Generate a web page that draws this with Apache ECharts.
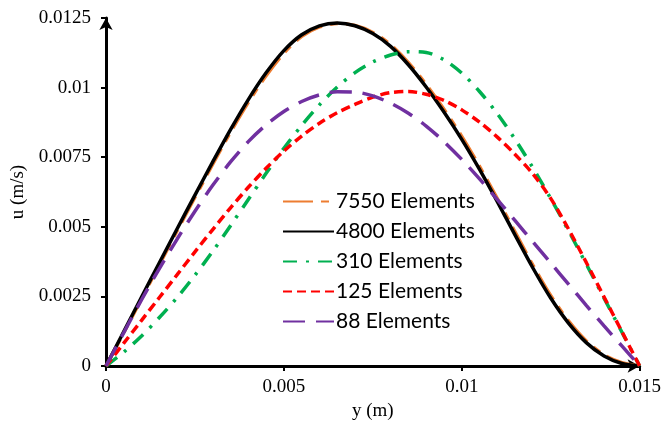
<!DOCTYPE html>
<html>
<head>
<meta charset="utf-8">
<script src="https://cdn.jsdelivr.net/npm/echarts@6/dist/echarts.min.js"></script>
<style>
  html, body { margin: 0; padding: 0; background: #fff; }
  #chart { width: 664px; height: 429px; }
</style>
</head>
<body>
<div id="chart"></div>
<script>
// positions along the channel (m)
const ys = [0, 0.0005, 0.001, 0.0015, 0.002, 0.0025, 0.003, 0.0035, 0.004, 0.0045, 0.005,
  0.0055, 0.006, 0.0065, 0.007, 0.0075, 0.008, 0.0085, 0.009, 0.0095, 0.01,
  0.0105, 0.011, 0.0115, 0.012, 0.0125, 0.013, 0.0135, 0.014, 0.0145, 0.015];

// velocity u (m/s) for each mesh
const u7550 = [0, 0.0012, 0.00242, 0.00364, 0.00486, 0.00606, 0.00725, 0.0084, 0.00947, 0.01043, 0.01124,
  0.01184, 0.01218, 0.0123, 0.01223, 0.01198, 0.01154, 0.0109, 0.01011, 0.00922, 0.00825,
  0.00717, 0.00601, 0.00481, 0.00362, 0.00253, 0.00162, 0.0009, 0.0004, 0.00012, 0];
const u4800 = [0, 0.00124, 0.00248, 0.00371, 0.00493, 0.00614, 0.00733, 0.00849, 0.00957, 0.01053, 0.01133,
  0.0119, 0.01222, 0.01232, 0.01222, 0.01194, 0.01148, 0.01082, 0.01002, 0.00912, 0.00814,
  0.00706, 0.0059, 0.0047, 0.00352, 0.00244, 0.00154, 0.00084, 0.00036, 0.00009, 0];
const u310 = [0, 0.0005, 0.00108, 0.00174, 0.00246, 0.00326, 0.00412, 0.00504, 0.00598, 0.00692, 0.00782,
  0.00864, 0.00938, 0.01002, 0.01054, 0.01092, 0.01117, 0.01129, 0.01126, 0.011, 0.01052,
  0.00986, 0.00906, 0.00814, 0.00712, 0.00602, 0.00486, 0.00366, 0.00244, 0.00122, 0];
const u125 = [0, 0.00082, 0.00164, 0.00246, 0.00328, 0.0041, 0.0049, 0.00568, 0.00642, 0.0071, 0.00772,
  0.00826, 0.00872, 0.0091, 0.0094, 0.00966, 0.00982, 0.00986, 0.00976, 0.00954, 0.0092,
  0.00876, 0.00822, 0.0076, 0.0069, 0.00602, 0.00492, 0.00372, 0.00248, 0.00124, 0];
const u88 = [0, 0.0012, 0.00238, 0.0035, 0.00456, 0.00556, 0.00649, 0.00733, 0.00806, 0.00866, 0.00914,
  0.0095, 0.00974, 0.00985, 0.00984, 0.0097, 0.00944, 0.00908, 0.00862, 0.00806, 0.00742,
  0.00672, 0.00598, 0.00522, 0.00446, 0.0037, 0.00294, 0.00218, 0.00144, 0.00072, 0];

const xTicks = ['0', '0.005', '0.01', '0.015'];
const yTicks = ['0', '0.0025', '0.005', '0.0075', '0.01', '0.0125'];

const names = ['7550 Elements', '4800 Elements', '310 Elements', '125 Elements', '88 Elements'];

const pair = arr => arr.map((v, i) => [ys[i], v]);

const el = document.getElementById('chart');
const chart = echarts.init(el);

const serif = 'Liberation Serif';

function mkSeries(name, data, color, dash) {
  return {
    name,
    type: 'line',
    data: pair(data),
    smooth: 0.3,
    symbol: 'none',
    lineStyle: { color, width: 3.5, type: dash, cap: 'butt' },
    itemStyle: { color }
  };
}

chart.setOption({
  backgroundColor: '#fff',
  animation: false,
  grid: { left: 106, right: 23, top: 18, bottom: 63 },
  legend: {
    orient: 'vertical',
    left: 282,
    top: 191,
    padding: 0,
    itemGap: 9,
    itemWidth: 51,
    itemHeight: 20,
    itemStyle: { opacity: 0 },
    textStyle: { fontFamily: 'Lato', fontSize: 21, lineHeight: 20, color: '#000', padding: [0, 0, 0, -3] },
    data: names
  },
  xAxis: {
    type: 'value',
    min: 0,
    max: 0.015,
    interval: 0.005,
    name: 'y (m)',
    nameLocation: 'middle',
    nameGap: 34,
    nameTextStyle: { fontFamily: serif, fontSize: 19, color: '#000' },
    axisLine: { lineStyle: { color: '#000', width: 3 }, symbol: ['none', 'arrow'], symbolSize: [10, 12] },
    axisTick: { lineStyle: { color: '#000', width: 2 }, length: 5 },
    axisLabel: { fontFamily: serif, fontSize: 19, color: '#000', margin: 12, formatter: (v, i) => xTicks[i] },
    splitLine: { show: false }
  },
  yAxis: {
    type: 'value',
    min: 0,
    max: 0.0125,
    interval: 0.0025,
    name: 'u (m/s)',
    nameLocation: 'middle',
    nameGap: 70,
    nameTextStyle: { fontFamily: serif, fontSize: 19, color: '#000' },
    axisLine: { show: true, lineStyle: { color: '#000', width: 3 }, symbol: ['none', 'arrow'], symbolSize: [10, 12] },
    axisTick: { show: true, lineStyle: { color: '#000', width: 2 }, length: 5 },
    axisLabel: { fontFamily: serif, fontSize: 19, color: '#000', margin: 15, formatter: (v, i) => yTicks[i] },
    splitLine: { show: false }
  },
  series: [
    mkSeries(names[0], u7550, '#ed7d31', [30, 8, 8, 8]),
    mkSeries(names[1], u4800, '#000000', 'solid'),
    mkSeries(names[2], u310, '#00b050', [14, 9, 3, 9]),
    mkSeries(names[3], u125, '#ff0000', [9, 5]),
    mkSeries(names[4], u88, '#7030a0', [22, 11])
  ]
});
</script>
</body>
</html>
